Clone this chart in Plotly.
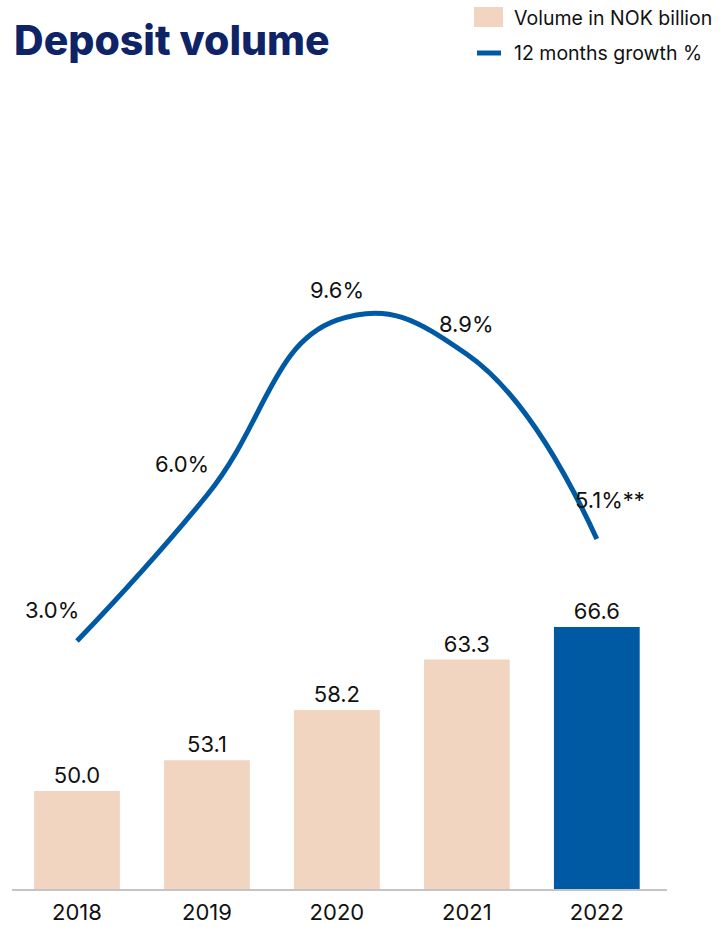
import plotly.graph_objects as go

# Deposit volume, NOK billion, and 12-month growth
years = ["2018", "2019", "2020", "2021", "2022"]
volume = [50.0, 53.1, 58.2, 63.3, 66.6]
growth = [3.0, 6.0, 9.6, 8.9, 5.1]
volume_labels = ["50.0", "53.1", "58.2", "63.3", "66.6"]
growth_labels = ["3.0%", "6.0%", "9.6%", "8.9%", "5.1%**"]

PEACH = "#F2D5C0"
BLUE = "#005AA3"
NAVY = "#0F2467"
TEXT = "#111111"
FONT = "Inter"

bar_colors = [PEACH] * (len(years) - 1) + [BLUE]

fig = go.Figure()

fig.add_trace(go.Bar(
    x=years, y=volume, marker_color=bar_colors, marker_line_width=0,
    width=0.66, text=volume_labels, textposition="outside",
    textfont=dict(family=FONT, size=22, color=TEXT), cliponaxis=False,
    name="Volume in NOK billion", showlegend=False,
))

fig.add_trace(go.Scatter(
    x=years, y=growth, yaxis="y2", mode="lines",
    line=dict(color=BLUE, width=5, shape="spline", smoothing=1.3),
    name="12 months growth %", showlegend=False, cliponaxis=False,
))

# growth labels above the line points (first two sit up and to the left)
x_shifts = [-25, -25, 0, 0, 13]
y_shifts = [31, 31, 30, 30, 39]
for i, (g, lbl, dx, dy) in enumerate(zip(growth, growth_labels, x_shifts, y_shifts)):
    fig.add_annotation(
        x=i, y=g, xref="x", yref="y2", text=lbl, showarrow=False,
        yshift=dy, xshift=dx, font=dict(family=FONT, size=22, color=TEXT),
    )

# title
fig.add_annotation(
    xref="paper", yref="paper", x=0.0, y=1.0, yshift=60,
    xanchor="left", yanchor="middle", showarrow=False,
    text="Deposit volume",
    font=dict(family="Inter", size=41, color=NAVY, weight=800),
)

# legend: swatches and labels
def px_x(p):
    return (p - 12) / 655


def px_y(p):
    return (889 - p) / 789


fig.add_shape(type="rect", xref="paper", yref="paper",
              x0=px_x(474), x1=px_x(503), y0=px_y(27), y1=px_y(7),
              line_width=0, fillcolor=PEACH)
fig.add_shape(type="line", xref="paper", yref="paper",
              x0=px_x(477), x1=px_x(501), y0=px_y(53), y1=px_y(53),
              line=dict(color=BLUE, width=5))
for txt, py in [("Volume in NOK billion", 18), ("12 months growth %", 53)]:
    fig.add_annotation(
        xref="paper", yref="paper", x=px_x(512), y=px_y(py),
        xanchor="left", yanchor="middle", showarrow=False, text=txt,
        font=dict(family=FONT, size=19.5, color=TEXT),
    )

fig.update_layout(
    width=725, height=927,
    margin=dict(l=12, r=58, t=100, b=38),
    paper_bgcolor="white", plot_bgcolor="white",
    xaxis=dict(
        type="category", range=[-0.5, 4.54], automargin=False,
        showline=True, linecolor="#C4C4C4", linewidth=2,
        showgrid=False, ticks="", zeroline=False, ticklabelstandoff=3,
        tickfont=dict(family=FONT, size=22, color=TEXT),
    ),
    yaxis=dict(range=[40.08, 119.94], showgrid=False, zeroline=False,
               showline=False, showticklabels=False, automargin=False),
    yaxis2=dict(range=[-2.10, 14.13], overlaying="y", side="right",
                showgrid=False, zeroline=False, showline=False,
                showticklabels=False, automargin=False),
)

fig.write_html("out.html")
